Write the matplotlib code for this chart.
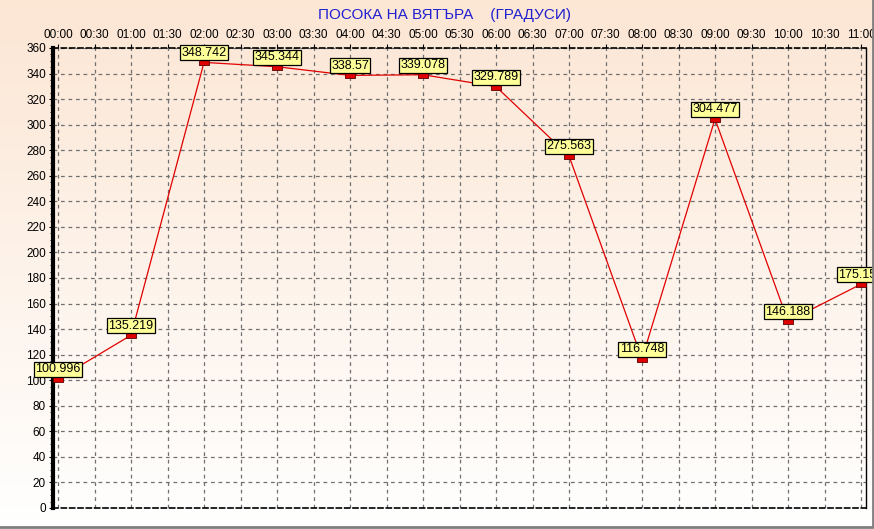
import numpy as np
import matplotlib.pyplot as plt
from matplotlib.lines import Line2D

hours = [0, 1, 2, 3, 4, 5, 6, 7, 8, 9, 10, 11]
values = [100.996, 135.219, 348.742, 345.344, 338.57, 339.078,
          329.789, 275.563, 116.748, 304.477, 146.188, 175.151]
tick_pos = np.arange(0, 11.01, 0.5)
tick_labels = ['%02d:%02d' % (int(t), 30 if t % 1 else 0) for t in tick_pos]
title = 'ПОСОКА НА ВЯТЪРА    (ГРАДУСИ)'

plt.rcParams['font.family'] = ['Liberation Sans', 'DejaVu Sans']

fig = plt.figure(figsize=(8.74, 5.29), dpi=100)

# background gradient, peach at top fading to white
bg = fig.add_axes([0, 0, 1, 1], zorder=-10)
top = np.array([252, 230, 212]) / 255.0
bot = np.array([255, 255, 255]) / 255.0
t = np.linspace(0, 1, 256)[:, None]
grad = top * (1 - t) + bot * t
bg.imshow(grad[:, None, :], aspect='auto', extent=[0, 1, 0, 1])
bg.set_axis_off()
# grey frame on bottom and right edges only
fig.lines.append(Line2D([0, 0.9985, 0.9985], [0.003, 0.003, 1],
                        transform=fig.transFigure, color='#808080', lw=2))

ax = fig.add_axes([53 / 874, 21 / 529, 813 / 874, 460 / 529])
ax.set_facecolor('none')
ax.set_xlim(-5 / 73, 11 + 5 / 73)
ax.set_ylim(0, 360)

ax.plot(hours, values, color='#e00000', lw=0.9, zorder=3)
box = [(-1.6, -1), (1.6, -1), (1.6, 1), (-1.6, 1), (-1.6, -1)]
ax.plot(hours, values, ls='none', marker=box, ms=6.5, mfc='#e00000',
        mec='#600000', mew=0.6, zorder=4, clip_on=False)

for h, v in zip(hours, values):
    ax.annotate('%g' % v, (h, v), xytext=(0, 2.5), textcoords='offset points',
                ha='center', va='bottom', fontsize=9, zorder=5,
                annotation_clip=False,
                bbox=dict(boxstyle='square,pad=0.12', fc='#ffff99',
                          ec='black', lw=0.9))

ax.xaxis.tick_top()
ax.set_xticks(tick_pos)
ax.set_xticklabels(tick_labels)
ax.set_yticks(np.arange(0, 361, 20))
ax.set_yticks(np.arange(0, 361, 5), minor=True)
ax.tick_params(axis='both', labelsize=8.5, length=3, width=0.8, pad=2)
ax.tick_params(axis='y', which='minor', length=2, width=0.6)
ax.grid(True, color='#707070', ls=(0, (3, 3)), lw=0.9)

ax.spines['left'].set_linewidth(3)
ax.spines['right'].set_linewidth(1)
for s in ('top', 'bottom'):
    ax.spines[s].set_linestyle((0, (3, 2)))
    ax.spines[s].set_linewidth(1.2)

fig.text(445 / 874, 1 - 15 / 529, title, ha='center', va='center',
         color='#2020d0', fontsize=11)

fig.savefig('out.png', dpi=100)
